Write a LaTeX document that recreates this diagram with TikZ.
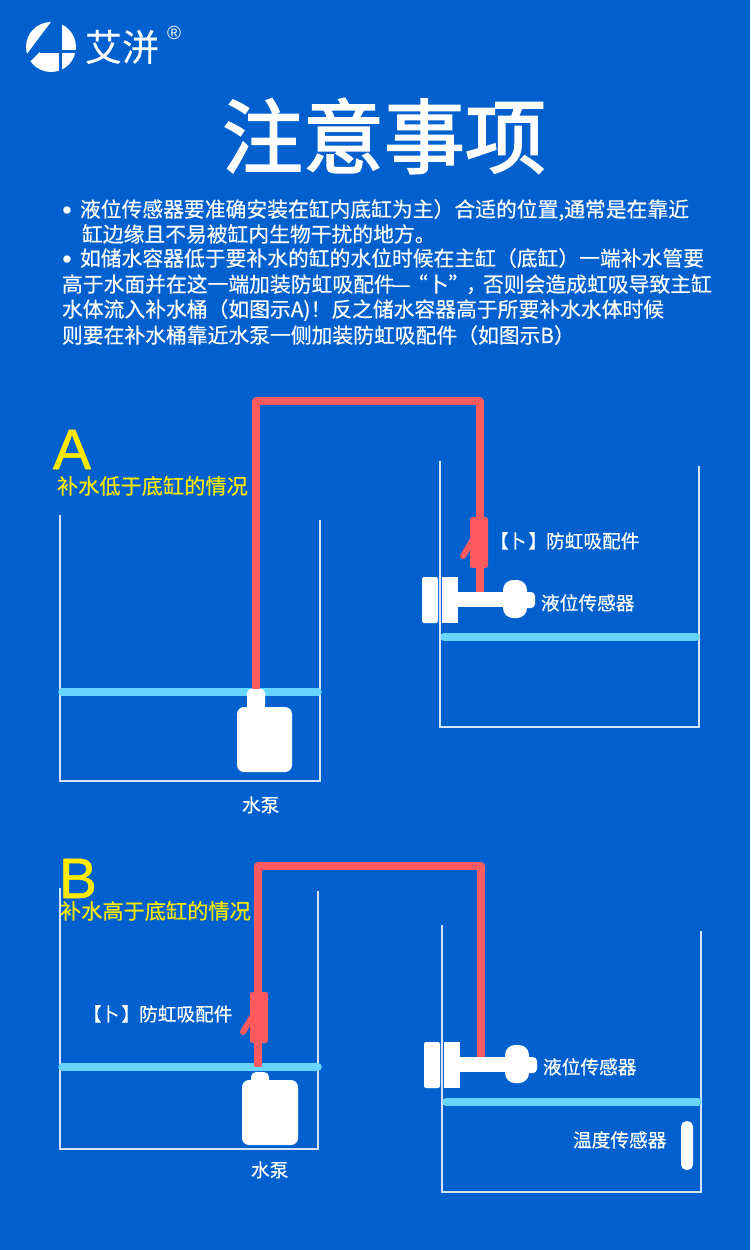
\documentclass[tikz,border=0pt]{standalone}
\usepackage{fontspec}
\setmainfont{Noto Sans CJK SC}
\newfontfamily\medf[FakeBold=0.35]{Noto Sans CJK SC}
\newfontfamily\titlef[FakeBold=2]{Noto Sans CJK SC}
\newfontfamily\latinf{Liberation Sans}
\newfontfamily\latinb[FakeBold=0.9]{Liberation Sans}
\definecolor{bg}{HTML}{0061CE}
\definecolor{pipe}{HTML}{FF5A60}
\definecolor{water}{HTML}{66D5FF}
\definecolor{tank}{HTML}{D5E3F7}
\definecolor{ylw}{HTML}{FFEB00}
\newcommand{\fs}[1]{\fontsize{#1pt}{#1pt}\selectfont}
\tikzset{
  x=1pt,y=-1pt,
  txt/.style={inner sep=0,outer sep=0,anchor=base west,text=white},
  body/.style={txt,font=\medf\fs{20.8}},
  dot/.style={txt,font=\latinf\fs{27}},
  lab/.style={txt,font=\medf\fs{18.7}},
  subcap/.style={txt,font=\medf\fs{21.2},text=ylw},
  big/.style={txt,font=\latinb\fs{57},text=ylw},
  tankline/.style={draw=tank,line width=1.8pt,line join=miter},
  waterline/.style={draw=water,line width=7.5pt,line cap=round},
  pipeline/.style={draw=pipe,line width=7.5pt,line join=round},
  whitebox/.style={fill=white,rounded corners=2pt},
}
\begin{document}
\begin{tikzpicture}
\useasboundingbox (0,0) rectangle (750,1250);
\fill[bg] (0,0) rectangle (750,1250);

% logo
\fill[white] (51,47) circle (25);
\fill[bg] (52.5,20) -- (59,20) -- (59,50.5) -- (41,50.5) -- (30.5,61) -- (25.5,56) -- cycle;
\fill[bg] (58.5,20) rectangle (61.5,74);
\fill[bg] (40,50) rectangle (78,53);
\node[txt,font=\medf\fs{37}] (brand) at (85,61) {艾洴};
\node[txt,font=\latinf\fs{19}] (reg) at (167,39) {®};

% title
\node[txt,font=\titlef\fs{81}] (title) at (222,167) {注意事项};

% notes
\node[dot] (b1) at (62.3,219) {•};
\node[body] (l1) at (80,217) {液位传感器要准确安装在缸内底缸为主）合适的位置,通常是在靠近};
\node[body] (l2) at (82,242) {缸边缘且不易被缸内生物干扰的地方。};
\node[dot] (b2) at (62.3,268) {•};
\node[body] (l3) at (80,266) {如储水容器低于要补水的缸的水位时候在主缸（底缸）一端补水管要};
\node[body] (l4) at (62,292) {高于水面并在这一端加装防虹吸配件};
\node[body] (l4d) at (392,292) {—};
\node[body] (l4q) at (407,292) {“卜”};
\node[body] (l4c) at (466,292) {，};
\node[body] (l4e) at (483,292) {否则会造成虹吸导致主缸};
\node[body] (l5) at (62,317) {水体流入补水桶（如图示A)！反之储水容器高于所要补水水体时候};
\node[body] (l6) at (62,343) {则要在补水桶靠近水泵一侧加装防虹吸配件（如图示B）};

% section A
\node[big] (capA) at (53,469) {A};
\node[subcap] (subA) at (57,494) {补水低于底缸的情况};

\draw[tankline] (60,515) -- (60,781) -- (320,781) -- (320,520);
\draw[tankline] (440,461) -- (440,727) -- (699,727) -- (699,466);
\draw[waterline] (62,692) -- (318,692);
\draw[waterline] (444,637) -- (696,637);

\draw[pipeline] (256,692) -- (256,401) -- (480,401) -- (480,595);
\fill[pipe,rounded corners=2.5pt] (470,517) rectangle (488,568);
\draw[pipe,line width=6pt,line cap=round] (472,541) -- (463,556);

\fill[white,rounded corners=7pt] (237,707) rectangle (292,772);
\fill[white,rounded corners=4pt] (247,689) rectangle (265,716);

\fill[whitebox] (422,577) rectangle (438,623);
\fill[white] (442,577) rectangle (458,623);
\fill[white] (458,592) rectangle (506,607);
\fill[white,rounded corners=10pt] (503,580) rectangle (527,618);
\fill[white,rounded corners=4pt] (523,592) rectangle (535,608);

\node[lab] (sA) at (490,548) {【\kern-1pt 卜\kern2pt 】};
\node[lab] (vA) at (546,548) {防虹吸配件};
\node[lab] (lA) at (541,610) {液位传感器};
\node[lab] (pA) at (242,812) {水泵};

% section B
\node[big] (capB) at (59,898) {B};
\node[subcap] (subB) at (60,919) {补水高于底缸的情况};

\draw[tankline] (60,888) -- (60,1149) -- (318,1149) -- (318,891);
\draw[tankline] (442,925) -- (442,1192) -- (701,1192) -- (701,931);
\draw[waterline] (62,1067) -- (318,1067);
\draw[waterline] (446,1102) -- (698,1102);

\draw[pipeline] (258,1067) -- (258,866) -- (481,866) -- (481,1060);
\fill[pipe,rounded corners=2.5pt] (250,992) rectangle (268,1043);
\draw[pipe,line width=6pt,line cap=round] (252,1017) -- (243,1032);

\fill[white,rounded corners=7pt] (242,1080) rectangle (298,1145);
\fill[white,rounded corners=5pt] (251,1072) rectangle (269,1090);

\fill[whitebox] (424,1042) rectangle (440,1088);
\fill[white] (444,1042) rectangle (460,1088);
\fill[white] (460,1057) rectangle (508,1072);
\fill[white,rounded corners=10pt] (505,1045) rectangle (529,1083);
\fill[white,rounded corners=4pt] (525,1057) rectangle (537,1073);

\fill[white,rounded corners=5.5pt] (681,1121) rectangle (693,1170);

\node[lab] (sB) at (83,1021) {【\kern-1pt 卜\kern2pt 】};
\node[lab] (vB) at (139,1021) {防虹吸配件};
\node[lab] (lB) at (543,1074) {液位传感器};
\node[lab] (pB) at (251,1177) {水泵};
\node[lab] (tB) at (573,1147) {温度传感器};
\end{tikzpicture}
\end{document}
